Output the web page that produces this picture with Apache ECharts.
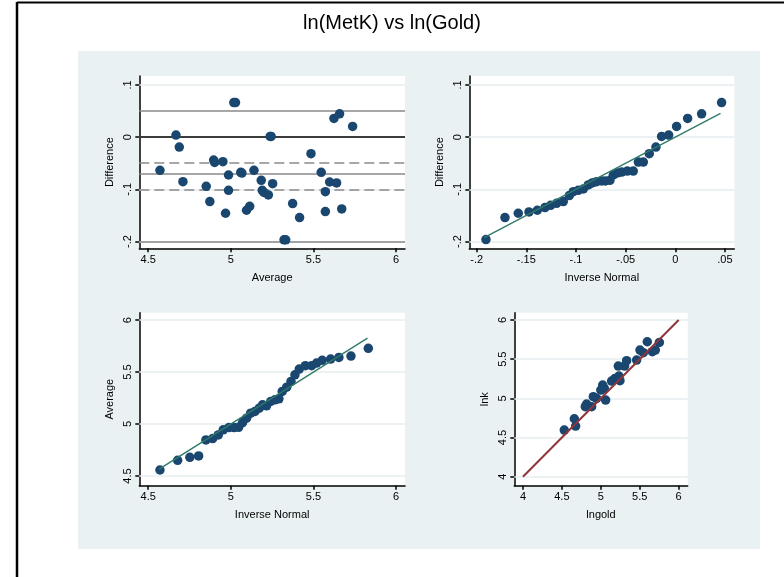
<!DOCTYPE html>
<html><head><meta charset="utf-8">
<script src="https://cdn.jsdelivr.net/npm/echarts@6/dist/echarts.min.js"></script>
<style>html,body{margin:0;padding:0;background:#fff}#c{width:784px;height:577px}</style>
</head><body><div id="c"></div>
<script>
// ---- Panel 1: Bland-Altman (Average vs Difference)
const p1Avg  = [4.571,4.668,4.688,4.710,4.851,4.873,4.896,4.902,4.952,4.986,4.986,4.968,5.018,5.028,5.060,5.067,5.140,5.114,5.095,5.184,5.190,5.200,5.227,5.238,5.244,5.253,5.322,5.332,5.374,5.416,5.485,5.547,5.572,5.572,5.598,5.640,5.624,5.658,5.671,5.737];
const p1Diff = [-0.0637,0.0038,-0.0191,-0.0854,-0.0943,-0.1236,-0.0440,-0.0485,-0.0471,-0.0726,-0.1019,-0.1459,0.0662,0.0662,-0.0675,-0.0690,-0.0637,-0.1325,-0.1401,-0.0828,-0.1020,-0.1060,-0.1108,0.0013,0.0013,-0.0892,-0.1968,-0.1968,-0.1274,-0.1541,-0.0318,-0.0675,-0.1045,-0.1427,-0.0860,-0.0879,0.0357,0.0446,-0.1376,0.0204];
const p1Ref = {upper:0.049, ciHi:-0.0525, mean:-0.0737, ciLo:-0.096, lower:-0.197};
const p1XTicks = [4.5,5,5.5,6];
const diffTicks = [-0.2,-0.1,0,0.1];

// ---- Panel 2: normal quantile plot of Difference
const p2Inv  = [-0.1906,-0.1715,-0.1581,-0.1473,-0.1389,-0.1312,-0.1255,-0.1195,-0.1128,-0.1067,-0.1027,-0.0977,-0.0926,-0.0876,-0.0836,-0.0792,-0.0742,-0.0705,-0.0658,-0.0624,-0.0581,-0.0540,-0.0483,-0.0423,-0.0372,-0.0322,-0.0262,-0.0195,-0.0138,-0.0067,0.0013,0.0124,0.0265,0.0466];
const p2Diff = [-0.1962,-0.1541,-0.1459,-0.1433,-0.1401,-0.1350,-0.1306,-0.1268,-0.1236,-0.1121,-0.1045,-0.1019,-0.0994,-0.0917,-0.0879,-0.0854,-0.0841,-0.0841,-0.0828,-0.0726,-0.0688,-0.0669,-0.0650,-0.0650,-0.0478,-0.0478,-0.0318,-0.0191,0.0013,0.0038,0.0204,0.0357,0.0446,0.0662];
const p2Line = [-0.1925,0.0455];
const p2XTicks = [-0.2,-0.15,-0.1,-0.05,0,0.05];

// ---- Panel 3: normal quantile plot of Average
const p3Inv = [4.571,4.678,4.752,4.805,4.849,4.890,4.924,4.954,4.988,5.019,5.047,5.071,5.095,5.120,5.146,5.172,5.192,5.216,5.241,5.267,5.291,5.311,5.338,5.364,5.388,5.414,5.451,5.489,5.519,5.553,5.604,5.654,5.727,5.832];
const p3Avg = [4.558,4.651,4.680,4.693,4.847,4.860,4.895,4.944,4.966,4.966,4.969,5.014,5.056,5.105,5.121,5.153,5.185,5.175,5.217,5.233,5.243,5.314,5.355,5.410,5.474,5.529,5.561,5.561,5.587,5.613,5.625,5.641,5.654,5.728];
const p3Line = [4.566,5.827];
const avgTicks = [4.5,5,5.5,6];

// ---- Panel 4: lnk vs lngold
const p4Gold = [4.531,4.660,4.677,4.818,4.801,4.904,4.882,4.946,5.024,5.045,5.062,5.139,5.182,5.233,5.246,5.225,5.332,5.306,5.460,5.503,5.546,5.597,5.662,5.700,5.752,5.000];
const p4K    = [4.596,4.740,4.647,4.928,4.894,5.021,4.894,5.000,5.170,5.128,4.979,5.221,5.255,5.285,5.226,5.413,5.481,5.413,5.489,5.617,5.583,5.723,5.596,5.617,5.715,5.106];
const p4Line = [4,6];
const p4Ticks = [4,4.5,5,5.5,6];

const TITLE = 'ln(MetK) vs ln(Gold)';
const FONT = 'Liberation Sans, Arial, sans-serif';
const NAVY = '#1a476f';
const GRIDC = '#e6eef0';

function fmt(v){ let s = (Math.round(v*1000)/1000).toString(); return s.replace(/^(-?)0\./,'$1.'); }
function zip(a,b){ return a.map((v,i)=>[v,b[i]]); }

function xAxisDef(idx, min, max, ticks, name){
  return {gridIndex:idx, type:'value', min:min, max:max, name:name, nameLocation:'middle', nameGap:24,
    nameTextStyle:{fontFamily:FONT,fontSize:11,color:'#000'},
    axisLine:{show:true,onZero:false,lineStyle:{color:'#000',width:1.5}},
    axisTick:{show:true,length:4,inside:false,customValues:ticks,lineStyle:{color:'#000',width:1.5}},
    axisLabel:{customValues:ticks,formatter:fmt,fontFamily:FONT,fontSize:11,color:'#000',margin:6},
    splitLine:{show:false}};
}
function yAxisDef(idx, min, max, ticks, name){
  return {gridIndex:idx, type:'value', min:min, max:max, name:name, nameLocation:'middle', nameGap:24,
    nameTextStyle:{fontFamily:FONT,fontSize:11,color:'#000'},
    axisLine:{show:true,onZero:false,lineStyle:{color:'#000',width:1.5}},
    axisTick:{show:true,length:4,inside:false,customValues:ticks,lineStyle:{color:'#000',width:1.5}},
    axisLabel:{customValues:ticks,formatter:fmt,rotate:90,fontFamily:FONT,fontSize:11,color:'#000',margin:6},
    splitLine:{show:false}};
}
function gridLines(ticks){
  return {silent:true,symbol:'none',label:{show:false},animation:false,
    lineStyle:{color:GRIDC,width:1.5,type:'solid'},
    data:ticks.map(t=>({yAxis:t}))};
}
function scatter(idx, data, extra){
  return Object.assign({type:'scatter', xAxisIndex:idx, yAxisIndex:idx, data:data, symbolSize:9.5,
    itemStyle:{color:NAVY,opacity:1}, z:5, animation:false}, extra||{});
}

const chart = echarts.init(document.getElementById('c'), null, {renderer:'canvas'});
const option = {
  backgroundColor:'#fff',
  animation:false,
  title:{text:TITLE,left:'center',top:8,textStyle:{fontFamily:FONT,fontSize:20,fontWeight:'normal',color:'#000'}},
  graphic:[
    {type:'rect',shape:{x:78,y:51,width:682,height:498},style:{fill:'#eaf1f3'},z:-10},
    {type:'line',shape:{x1:17,y1:2.5,x2:784,y2:2.5},style:{stroke:'#000',lineWidth:2},z:10},
    {type:'line',shape:{x1:17,y1:2,x2:17,y2:577},style:{stroke:'#000',lineWidth:2.5},z:10}
  ],
  grid:[
    {left:139.3,top:76,width:265.7,height:172.3,show:true,backgroundColor:'#fff',borderWidth:0},
    {left:469.3,top:76,width:265,height:172.3,show:true,backgroundColor:'#fff',borderWidth:0},
    {left:139.3,top:312.7,width:265.7,height:173,show:true,backgroundColor:'#fff',borderWidth:0},
    {left:514.3,top:312.7,width:173.4,height:173,show:true,backgroundColor:'#fff',borderWidth:0}
  ],
  xAxis:[
    xAxisDef(0,4.446,6.054,p1XTicks,'Average'),
    xAxisDef(1,-0.2074,0.0594,p2XTicks,'Inverse Normal'),
    xAxisDef(2,4.446,6.054,p1XTicks,'Inverse Normal'),
    xAxisDef(3,3.889,6.116,p4Ticks,'lngold')
  ],
  yAxis:[
    yAxisDef(0,-0.213,0.117,diffTicks,'Difference'),
    yAxisDef(1,-0.213,0.117,diffTicks,'Difference'),
    yAxisDef(2,4.407,6.071,avgTicks,'Average'),
    yAxisDef(3,3.885,6.094,p4Ticks,'lnk')
  ],
  series:[
    {type:'line',xAxisIndex:0,yAxisIndex:0,data:[],markLine:gridLines(diffTicks),z:1},
    {type:'line',xAxisIndex:0,yAxisIndex:0,data:[],z:3,markLine:{silent:true,symbol:'none',label:{show:false},animation:false,
      data:[
        {yAxis:p1Ref.upper,lineStyle:{color:'#8a8a8a',width:1.5,type:'solid'}},
        {yAxis:p1Ref.mean,lineStyle:{color:'#8a8a8a',width:1.5,type:'solid'}},
        {yAxis:p1Ref.lower,lineStyle:{color:'#8a8a8a',width:1.5,type:'solid'}},
        {yAxis:p1Ref.ciHi,lineStyle:{color:'#8a8a8a',width:1.5,type:[10,5]}},
        {yAxis:p1Ref.ciLo,lineStyle:{color:'#8a8a8a',width:1.5,type:[10,5]}},
        {yAxis:0,lineStyle:{color:'#000',width:1.5,type:'solid'}}
      ]}},
    scatter(0, zip(p1Avg,p1Diff)),
    {type:'line',xAxisIndex:1,yAxisIndex:1,data:[],markLine:gridLines(diffTicks),z:1},
    {type:'line',xAxisIndex:1,yAxisIndex:1,data:zip(p2Line,p2Line),showSymbol:false,symbol:'none',
      lineStyle:{color:'#2f7a68',width:1.4},z:6,animation:false},
    scatter(1, zip(p2Inv,p2Diff)),
    {type:'line',xAxisIndex:2,yAxisIndex:2,data:[],markLine:gridLines(avgTicks),z:1},
    {type:'line',xAxisIndex:2,yAxisIndex:2,data:zip(p3Line,p3Line),showSymbol:false,symbol:'none',
      lineStyle:{color:'#2f7a68',width:1.4},z:6,animation:false},
    scatter(2, zip(p3Inv,p3Avg)),
    {type:'line',xAxisIndex:3,yAxisIndex:3,data:[],markLine:gridLines(p4Ticks),z:1},
    scatter(3, zip(p4Gold,p4K)),
    {type:'line',xAxisIndex:3,yAxisIndex:3,data:zip(p4Line,p4Line),showSymbol:false,symbol:'none',
      lineStyle:{color:'#90353b',width:2},z:6,animation:false}
  ]
};
chart.setOption(option);
</script></body></html>
